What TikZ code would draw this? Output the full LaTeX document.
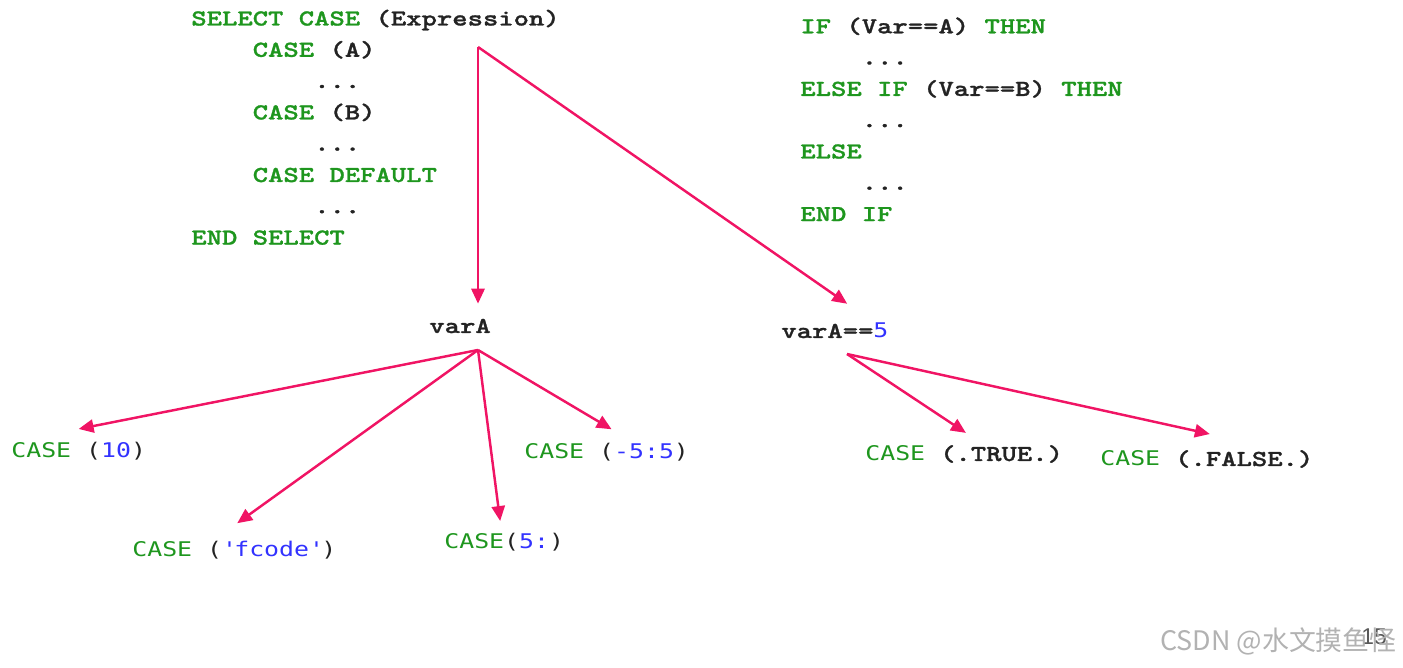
\documentclass[tikz,border=0pt]{standalone}
\usepackage{fontspec}
\usetikzlibrary{arrows.meta}
\newfontfamily\cour{lmmonolt10-bold}[Extension=.otf, FakeStretch=1.28, FakeBold=1.2]
\newfontfamily\lucon{DejaVu Sans Mono}[FakeStretch=1.23]
\newfontfamily\cjk{Noto Sans CJK SC}
\definecolor{kwgreen}{RGB}{30,150,30}
\definecolor{numblue}{RGB}{50,50,255}
\definecolor{txtblack}{RGB}{35,35,35}
\definecolor{arrowred}{RGB}{240,20,100}
\newcommand{\kw}[1]{{\color{kwgreen}#1}}
\newcommand{\nm}[1]{{\color{numblue}#1}}
\newcommand{\cw}[1]{{\cour\fontsize{13}{17.9}\selectfont #1}}
\newcommand{\lu}[1]{{\lucon\fontsize{11.5}{14}\selectfont #1}}
\begin{document}
\begin{tikzpicture}[x=0.02cm, y=-0.02cm,
    code/.style={anchor=base west, inner sep=0pt, text=txtblack, font=\cour\fontsize{13}{17.9}\selectfont},
    lab/.style={anchor=base west, inner sep=0pt, text=txtblack, font=\lucon\fontsize{11.5}{14}\selectfont},
    arr/.style={draw=arrowred, line width=1.4pt, -{Triangle[length=8.5pt,width=7.5pt]}}]
    \useasboundingbox (0,0) rectangle (1403,668);

    % SELECT CASE block
    \node [code] (sel1) at (191,25.5) {\kw{SELECT CASE} (Expression)};
    \node [code] (sel2) at (252.4,56.8) {\kw{CASE} (A)};
    \node [code] (sel3) at (313.9,88.1) {...};
    \node [code] (sel4) at (252.4,119.4) {\kw{CASE} (B)};
    \node [code] (sel5) at (313.9,150.7) {...};
    \node [code] (sel6) at (252.4,182) {\kw{CASE DEFAULT}};
    \node [code] (sel7) at (313.9,213.3) {...};
    \node [code] (sel8) at (191,244.6) {\kw{END SELECT}};

    % IF block
    \node [code] (if1) at (800,33.3) {\kw{IF} (Var==A) \kw{THEN}};
    \node [code] (if2) at (861.4,64.6) {...};
    \node [code] (if3) at (800,95.9) {\kw{ELSE IF} (Var==B) \kw{THEN}};
    \node [code] (if4) at (861.4,127.2) {...};
    \node [code] (if5) at (800,158.5) {\kw{ELSE}};
    \node [code] (if6) at (861.4,189.8) {...};
    \node [code] (if7) at (800,221.1) {\kw{END IF}};

    % selectors
    \node [code] (vara) at (429,333) {varA};
    \node [code] (veq) at (781,338) {varA==\nm{\lu{5}}};

    % cases
    \node [lab] (c10) at (11,458) {\kw{CASE} (\nm{10})};
    \node [lab] (cfc) at (132,557) {\kw{CASE} (\nm{\textquotesingle fcode\textquotesingle})};
    \node [lab] (c5) at (444,549) {\kw{CASE}(\nm{5:})};
    \node [lab] (cm5) at (524,459) {\kw{CASE} (\nm{-5:5})};
    \node [lab] (ctr) at (865,461) {\kw{CASE} \cw{(.TRUE.)}};
    \node [lab] (cfa) at (1100,466) {\kw{CASE} \cw{(.FALSE.)}};

    \coordinate (sel) at (478,47);
    \coordinate (hubA) at (478,350);
    \coordinate (hubB) at (847,354);

    \draw [arr, shorten >=8.4pt] (sel) -- (sel |- vara.north);
    \draw [arr] (sel) -- ([xshift=7pt,yshift=10.9pt]veq.north);

    \draw [arr] (hubA) -- ([yshift=7.6pt]c10.north);
    \draw [arr] (hubA) -- ([xshift=1.7pt,yshift=10.3pt]cfc.north);
    \draw [arr] (hubA) -- ([xshift=-2.3pt,yshift=7pt]c5.north);
    \draw [arr] (hubA) -- ([xshift=2.8pt,yshift=8pt]cm5.north);

    \draw [arr] (hubB) -- ([xshift=1pt,yshift=6.8pt]ctr.north);
    \draw [arr] (hubB) -- ([xshift=1.7pt,yshift=9pt]cfa.north);

    % watermark
    \node [inner sep=0pt, text=black!65, font=\fontspec{Liberation Sans}\fontsize{13}{15}\selectfont] (page) at (1374,637) {15};
    \node [anchor=base west, inner sep=0pt, text=black!30, font=\cjk\fontsize{15.3}{18}\selectfont] (wm) at (1160,650) {CSDN @水文摸鱼怪};
\end{tikzpicture}
\end{document}
